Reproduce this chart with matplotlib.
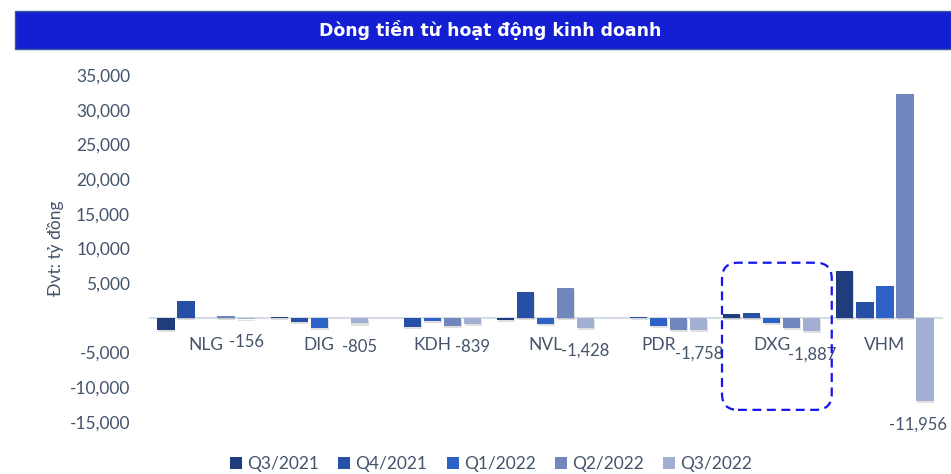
import numpy as np
import matplotlib
matplotlib.use("Agg")
import matplotlib.pyplot as plt
import matplotlib.patheffects as pe
from matplotlib.patches import Rectangle, FancyBboxPatch, Patch
from matplotlib.transforms import IdentityTransform
from matplotlib.ticker import FuncFormatter

plt.rcParams['font.family'] = ['Lato', 'DejaVu Sans']

title = "Dòng tiền từ hoạt động kinh doanh"
ylabel = "Đvt: tỷ đồng"
cats = ['NLG', 'DIG', 'KDH', 'NVL', 'PDR', 'DXG', 'VHM']
quarters = ['Q3/2021', 'Q4/2021', 'Q1/2022', 'Q2/2022', 'Q3/2022']
# values in ty dong
q3_21 = [-1700, 150, 0, -350, 0, 550, 6700]
q4_21 = [2400, -650, -1250, 3750, 150, 750, 2250]
q1_22 = [0, -1500, -500, -900, -1150, -700, 4650]
q2_22 = [300, 0, -1100, 4350, -1700, -1400, 32200]
q3_22 = [-156, -805, -839, -1428, -1758, -1887, -11956]
series = [q3_21, q4_21, q1_22, q2_22, q3_22]
colors = ['#1F3C7C', '#2650A6', '#2D61C6', '#7286BE', '#A2AED2']

text_col = '#44546A'

fig = plt.figure(figsize=(9.51, 4.74), dpi=100)
ax = fig.add_axes([149.5 / 951, 52 / 474, 792 / 951, 347 / 474])

x = np.arange(len(cats))
step = 0.177
width = 0.152
shadow = [pe.SimplePatchShadow(offset=(0.5, -1.5), alpha=0.18, shadow_rgbFace='#555555'), pe.Normal()]
bars = []
for i, (vals, c) in enumerate(zip(series, colors)):
    b = ax.bar(x + (i - 2) * step, vals, width, color=c, zorder=3)
    for r in b:
        r.set_path_effects(shadow)
    bars.append(b)

texts = ax.bar_label(bars[-1], labels=[f"{v:,.0f}" for v in q3_22], padding=11,
                     fontsize=12, color=text_col)
# keep the last label inside the picture
dx, dy = texts[-1].xyann
texts[-1].xyann = (dx - 5, dy)

ax.set_xlim(-0.5, 6.5)
ax.set_ylim(-15000, 35000)
ax.set_yticks(range(-15000, 35001, 5000))
ax.yaxis.set_major_formatter(FuncFormatter(lambda v, p: '' if v == 0 else f"{v:,.0f}"))
ax.set_xticks(x)
ax.set_xticklabels(cats)
ax.tick_params(axis='both', length=0, labelsize=12.5, labelcolor=text_col)
ax.tick_params(axis='y', pad=14)
ax.tick_params(axis='x', pad=14)

for s in ['top', 'right', 'left']:
    ax.spines[s].set_visible(False)
ax.spines['bottom'].set_position(('data', 0))
ax.spines['bottom'].set_color('#D6DCE5')
ax.spines['bottom'].set_linewidth(1.5)
ax.spines['bottom'].set_zorder(2)

fig.text(55 / 951, 1 - 248 / 474, ylabel, rotation=90, ha='center', va='center',
         fontsize=12.5, color=text_col)

# title bar
fig.add_artist(Rectangle((15 / 951, 1 - 49 / 474), 1 - 15 / 951, 38 / 474,
                         transform=fig.transFigure, facecolor='#141ED2',
                         edgecolor='#3A5A9A', linewidth=1))
fig.text(490 / 951, 1 - 30 / 474, title, ha='center', va='center', color='white',
         fontsize=12.5, fontweight='bold', family='DejaVu Sans')

# dashed highlight around DXG
fig.canvas.draw()
x0, y0 = ax.transData.transform((4.56, -13250))
x1, y1 = ax.transData.transform((5.53, 7950))
box = FancyBboxPatch((x0, y0), x1 - x0, y1 - y0,
                     boxstyle='round,pad=0,rounding_size=16',
                     transform=IdentityTransform(), fill=False,
                     edgecolor='#1414F0', linewidth=1.6, linestyle=(0, (4, 2.5)),
                     zorder=5)
fig.add_artist(box)

handles = [Patch(facecolor=c, label=q) for c, q in zip(colors, quarters)]
fig.legend(handles=handles, loc='center', bbox_to_anchor=(491 / 951, 10 / 474), ncol=5,
           frameon=False, fontsize=12.5, labelcolor=text_col, handlelength=0.7,
           handleheight=0.7, handletextpad=0.3, columnspacing=1.1, borderaxespad=0)

fig.savefig('out.png', dpi=100)
